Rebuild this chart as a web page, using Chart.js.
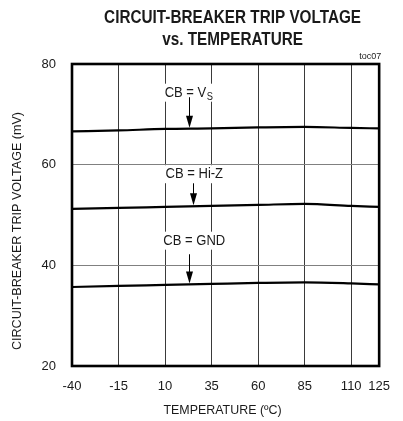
<!DOCTYPE html>
<html><head><meta charset="utf-8">
<script src="https://cdn.jsdelivr.net/npm/chart.js@4/dist/chart.umd.min.js"></script>
<style>html,body{margin:0;padding:0;background:#fff}#wrap{width:403px;height:421px}</style>
</head><body><div id="wrap"><canvas id="c" width="403" height="421"></canvas></div>
<script>
// ---- data ----
const temperatures = [-40, -15, 10, 35, 60, 85, 110, 125];
const xTickValues = [-40, -15, 10, 35, 60, 85, 110, 125];
const yTickValues = [20, 40, 60, 80];
const cbVs  = [66.6, 66.8, 67.1, 67.2, 67.4, 67.5, 67.3, 67.2];
const cbHiZ = [51.2, 51.4, 51.6, 51.8, 52.0, 52.2, 51.8, 51.6];
const cbGnd = [35.7, 35.9, 36.1, 36.3, 36.5, 36.6, 36.4, 36.2];
const titleLines = ['CIRCUIT-BREAKER TRIP VOLTAGE', 'vs. TEMPERATURE'];
const xTitle = 'TEMPERATURE (ºC)';
const yTitle = 'CIRCUIT-BREAKER TRIP VOLTAGE (mV)';
const figId = 'toc07';
const labelTexts = ['CB = V', 'CB = Hi-Z', 'CB = GND'];
const labelSubs = ['S', '', ''];

// ---- annotation placement (data units) ----
const notes = [
  { text: labelTexts[0], sub: labelSubs[0], series: cbVs,  lx: 22.6, ly: 74.3, ax: 22.6, aTop: 73.4 },
  { text: labelTexts[1], sub: labelSubs[1], series: cbHiZ, lx: 25.7, ly: 58.1, ax: 24.9, aTop: 56.3 },
  { text: labelTexts[2], sub: labelSubs[2], series: cbGnd, lx: 25.7, ly: 44.9, ax: 23.1, aTop: 42.2 }
];

const FONT = '"Liberation Sans", Arial, sans-serif';
const TXT = '#1a1a1a';
const NARROW = 0.93;

function interp(series, t) {
  for (let i = 0; i < temperatures.length - 1; i++) {
    const a = temperatures[i], b = temperatures[i + 1];
    if (t >= a && t <= b) return series[i] + (series[i + 1] - series[i]) * (t - a) / (b - a);
  }
  return series[series.length - 1];
}

const decor = {
  id: 'decor',
  beforeDatasetsDraw(chart) {
    const { ctx, scales: { x, y } } = chart;
    ctx.save();
    for (const n of notes) {
      const px = x.getPixelForValue(n.lx), py = y.getPixelForValue(n.ly);
      ctx.font = '14px ' + FONT;
      const w1 = ctx.measureText(n.text).width * NARROW;
      ctx.font = '10px ' + FONT;
      const w2 = n.sub ? ctx.measureText(n.sub).width * NARROW : 0;
      const w = w1 + w2;
      ctx.fillStyle = '#fff';
      ctx.fillRect(px - w / 2 - 8, py - 9, w + 16, 18);
      ctx.fillStyle = TXT;
      ctx.textBaseline = 'middle';
      ctx.textAlign = 'left';
      ctx.save(); ctx.translate(px - w / 2, py); ctx.scale(NARROW, 1);
      ctx.font = '14px ' + FONT;
      ctx.fillText(n.text, 0, 0);
      if (n.sub) { ctx.font = '10px ' + FONT; ctx.fillText(n.sub, w1 / NARROW + 0.5, 4.5); }
      ctx.restore();
      // arrow
      const ax = Math.round(x.getPixelForValue(n.ax)) + 0.5;
      const top = y.getPixelForValue(n.aTop);
      const tip = y.getPixelForValue(interp(n.series, n.ax)) - 1;
      ctx.strokeStyle = '#000'; ctx.lineWidth = 1;
      ctx.beginPath(); ctx.moveTo(ax, top); ctx.lineTo(ax, tip - 10); ctx.stroke();
      ctx.fillStyle = '#000';
      ctx.beginPath(); ctx.moveTo(ax - 3.5, tip - 12); ctx.lineTo(ax + 3.5, tip - 12); ctx.lineTo(ax, tip); ctx.closePath(); ctx.fill();
    }
    ctx.restore();
  },
  afterDraw(chart) {
    const { ctx, chartArea: ca } = chart;
    ctx.save();
    // frame
    ctx.strokeStyle = '#000'; ctx.lineWidth = 2.6;
    ctx.strokeRect(ca.left, ca.top, ca.right - ca.left, ca.bottom - ca.top);
    // title
    ctx.fillStyle = TXT; ctx.textAlign = 'center'; ctx.textBaseline = 'middle';
    ctx.font = 'bold 18px ' + FONT;
    const s = 257 / ctx.measureText(titleLines[0]).width;
    const cx = (ca.left + ca.right) / 2 + 7;
    [18.5, 40].forEach((ty, i) => {
      ctx.save(); ctx.translate(cx, ty); ctx.scale(s, 1);
      ctx.fillText(titleLines[i], 0, 0); ctx.restore();
    });
    // axis titles
    ctx.save(); ctx.translate((ca.left + ca.right) / 2 - 3, 410); ctx.scale(0.92, 1);
    ctx.font = '13.5px ' + FONT; ctx.fillText(xTitle, 0, 0); ctx.restore();
    ctx.save(); ctx.translate(17, 231); ctx.rotate(-Math.PI / 2); ctx.scale(0.93, 1);
    ctx.font = '13.5px ' + FONT; ctx.fillText(yTitle, 0, 0); ctx.restore();
    // figure id
    ctx.font = '9px ' + FONT; ctx.textAlign = 'right';
    ctx.fillText(figId, ca.right + 2, 57);
    ctx.restore();
  }
};

const lineStyle = { borderColor: '#000', borderWidth: 2.2, pointRadius: 0, fill: false, tension: 0.4, cubicInterpolationMode: 'monotone' };

new Chart(document.getElementById('c'), {
  type: 'line',
  data: {
    datasets: [
      Object.assign({ label: 'CB = VS',   data: temperatures.map((t, i) => ({ x: t, y: cbVs[i] })) }, lineStyle),
      Object.assign({ label: 'CB = Hi-Z', data: temperatures.map((t, i) => ({ x: t, y: cbHiZ[i] })) }, lineStyle),
      Object.assign({ label: 'CB = GND',  data: temperatures.map((t, i) => ({ x: t, y: cbGnd[i] })) }, lineStyle)
    ]
  },
  options: {
    responsive: false, animation: false, devicePixelRatio: 1,
    layout: { padding: { left: 0, right: 13, top: 64, bottom: 0 } },
    plugins: { legend: { display: false }, tooltip: { enabled: false }, title: { display: false } },
    scales: {
      x: {
        type: 'linear', min: -40, max: 125,
        afterBuildTicks: s => { s.ticks = xTickValues.map(v => ({ value: v })); },
        afterFit: s => { s.height = 55; },
        grid: { color: '#3a3a3a', lineWidth: 1, drawTicks: false },
        border: { display: false },
        ticks: { autoSkip: false, maxRotation: 0, padding: 13, color: TXT, font: { family: FONT, size: 13 } }
      },
      y: {
        type: 'linear', min: 20, max: 80,
        afterBuildTicks: s => { s.ticks = yTickValues.map(v => ({ value: v })); },
        afterFit: s => { s.width = 72; },
        grid: { color: '#808080', lineWidth: 1, drawTicks: false },
        border: { display: false },
        ticks: { padding: 16, color: TXT, font: { family: FONT, size: 13 } }
      }
    }
  },
  plugins: [decor]
});
</script></body></html>
